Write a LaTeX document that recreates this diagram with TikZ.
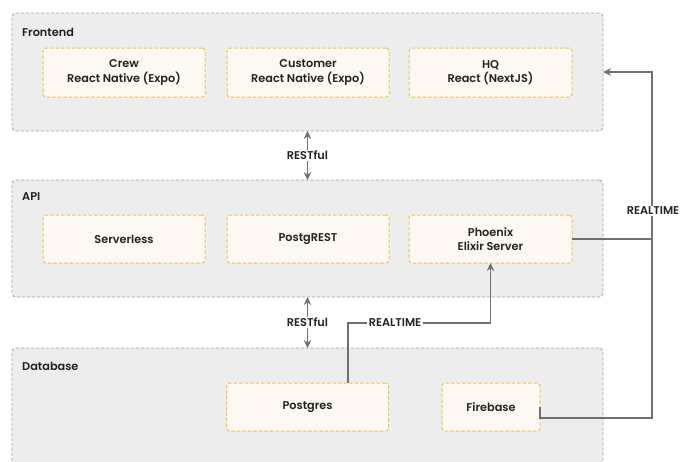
\documentclass[tikz,border=0pt]{standalone}
\usepackage{fontspec}
\setmainfont{Poppins}[BoldFont={* SemiBold}]
\usetikzlibrary{arrows.meta}
\definecolor{clfill}{HTML}{EDEDED}
\definecolor{cldraw}{HTML}{A3A3A3}
\definecolor{bxfill}{HTML}{FDF8F1}
\definecolor{bxdraw}{HTML}{EFC24F}
\definecolor{lnc}{HTML}{707070}
\definecolor{txc}{HTML}{222222}
\tikzset{
  cluster/.style={draw=cldraw, fill=clfill, line width=0.9pt, dash pattern=on 3pt off 2pt, rounded corners=4pt, inner sep=0pt, outer sep=0pt},
  svc/.style={draw=bxdraw, fill=bxfill, line width=1pt, dash pattern=on 3.5pt off 2pt, rounded corners=3pt, inner sep=0pt, outer sep=0pt, minimum height=49pt, align=center, font=\bfseries\fontsize{11.3}{14.5}\selectfont, text=txc},
  ctitle/.style={anchor=west, inner sep=0pt, font=\bfseries\fontsize{11.3}{13}\selectfont, text=txc},
  conn/.style={draw=lnc, line width=1.1pt},
  tip/.tip={Stealth[length=8pt,width=7.5pt]},
  arr/.style={conn, -tip},
  lab/.style={fill=white, inner sep=1.5pt, font=\bfseries\fontsize{11.3}{13}\selectfont, text=txc}
}
\begin{document}
\begin{tikzpicture}[x=1pt,y=-1pt]
\useasboundingbox (0,0) rectangle (687,461);
\clip (0,0) rectangle (687,461);
% clusters
\node[cluster, minimum width=591pt, minimum height=118pt] (fe) at (307.5,72) {};
\node[cluster, minimum width=591pt, minimum height=117pt] (api) at (307.5,238.5) {};
\node[cluster, minimum width=591pt, minimum height=140pt] (db) at (307.5,418) {};
\node[ctitle] (fet) at (22,32) {Frontend};
\node[ctitle] (apit) at (22,197) {API};
\node[ctitle] (dbt) at (22,366) {Database};
% services
\node[svc, minimum width=162pt] (crew) at (124,72.5) {Crew\\React Native (Expo)};
\node[svc, minimum width=162pt] (cust) at (308,72.5) {Customer\\React Native (Expo)};
\node[svc, minimum width=163pt] (hq) at (490.5,72.5) {HQ\\React (NextJS)};
\node[svc, minimum width=162pt, minimum height=48pt] (sls) at (124,239) {Serverless};
\node[svc, minimum width=162pt, minimum height=48pt] (pgr) at (308,239) {PostgREST};
\node[svc, minimum width=163pt, minimum height=48pt] (phx) at (490.5,239) {Phoenix\\Elixir Server};
\node[svc, minimum width=162pt, minimum height=48pt] (pg) at (307.5,407) {Postgres};
\node[svc, minimum width=98pt, minimum height=48pt] (fb) at (491,407) {Firebase};
% RESTful links
\draw[conn, tip-tip] (fe.south) -- node[lab] (r1) {RESTful} (api.north);
\draw[conn, tip-tip] (api.south) -- node[lab] (r2) {RESTful} (db.north);
% realtime bus on the right
\coordinate (b1) at (652,418);
\coordinate (b2) at (652,72);
\draw[arr] (fb.east) -- ([yshift=-11pt]fb.east) -- (b1) -- (b2) -- (fe.east);
\draw[conn] (phx.east) -- (phx.east -| b1);
\node[lab] (rt1) at (653,211) {REALTIME};
% postgres -> phoenix
\coordinate (p1) at (348,323);
\draw[arr] (pg.north -| p1) -- (p1) -- (p1 -| phx.south) -- (phx.south);
\node[lab] (rt2) at (395,323) {REALTIME};
\end{tikzpicture}
\end{document}
